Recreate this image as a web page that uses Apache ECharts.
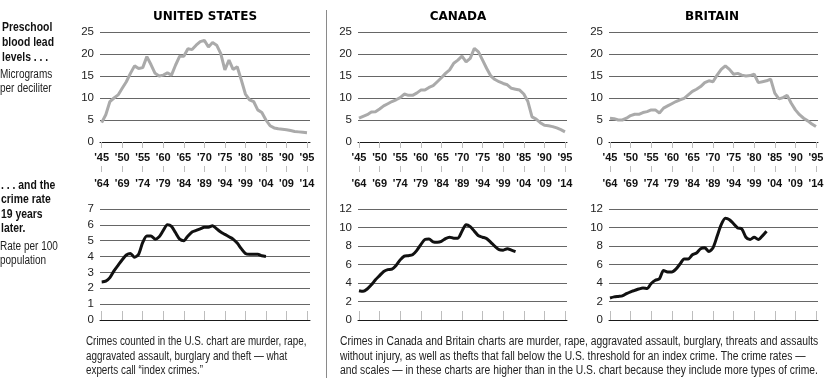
<!DOCTYPE html>
<html>
<head>
<meta charset="utf-8">
<script src="https://cdn.jsdelivr.net/npm/echarts@6/dist/echarts.min.js"></script>
<style>
html,body{margin:0;padding:0;background:#fff;}
#chart{width:833px;height:387px;}
</style>
</head>
<body>
<div id="chart"></div>
<script>
// ---------- DATA ----------
const countries = ['UNITED STATES', 'CANADA', 'BRITAIN'];

const leadYears = [1945,1946,1947,1948,1949,1950,1951,1952,1953,1954,1955,1956,1957,1958,1959,1960,1961,1962,1963,1964,1965,1966,1967,1968,1969,1970,1971,1972,1973,1974,1975,1976,1977,1978,1979,1980,1981,1982,1983,1984,1985,1986,1987,1988,1989,1990,1991,1992,1993,1994,1995];

const leadUS = [4.4,6.2,9.2,10.0,10.7,12.2,13.7,15.6,17.3,16.7,16.9,19.4,17.6,15.6,15.0,15.2,15.7,15.2,17.5,19.5,19.5,21.2,21.0,22.0,22.8,23.1,21.6,22.6,22.0,20.1,16.4,18.6,16.5,17.1,14.1,10.9,9.6,9.2,7.3,6.7,5.0,3.7,3.2,3.0,2.9,2.8,2.6,2.4,2.3,2.2,2.1];
const leadCanada = [5.4,5.8,6.2,6.8,6.9,7.5,8.2,8.7,9.2,9.6,10.1,10.9,10.6,10.6,11.1,11.8,11.8,12.4,12.8,13.7,14.6,15.6,16.4,17.9,18.6,19.5,18.2,19.0,21.3,20.5,18.6,16.7,15.0,14.2,13.7,13.3,13.0,12.2,12.0,11.8,10.9,9.2,5.7,5.2,4.4,3.8,3.7,3.5,3.2,2.8,2.3];
const leadBritain = [5.4,5.3,5.0,5.0,5.4,6.0,6.3,6.3,6.7,6.9,7.3,7.3,6.6,7.7,8.2,8.7,9.2,9.6,9.9,10.7,11.5,12.0,12.6,13.5,13.9,13.7,15.2,16.5,17.3,16.5,15.4,15.6,15.2,15.0,15.1,15.4,13.5,13.7,13.9,14.3,11.1,9.8,10.1,10.6,8.8,7.3,6.2,5.4,4.8,4.1,3.5];

const crimeYearsUS = [1964,1965,1966,1967,1968,1969,1970,1971,1972,1973,1974,1975,1976,1977,1978,1979,1980,1981,1982,1983,1984,1985,1986,1987,1988,1989,1990,1991,1992,1993,1994,1995,1996,1997,1998,1999,2000,2001,2002,2003,2004];
const crimeUS = [2.4,2.45,2.67,3.1,3.45,3.8,4.1,4.2,3.95,4.15,4.9,5.3,5.3,5.1,5.25,5.65,6.0,5.9,5.5,5.1,5.0,5.3,5.55,5.65,5.75,5.85,5.85,5.95,5.75,5.55,5.4,5.25,5.1,4.85,4.5,4.2,4.15,4.15,4.15,4.05,4.0];

const crimeYearsCanada = [1964,1965,1966,1967,1968,1969,1970,1971,1972,1973,1974,1975,1976,1977,1978,1979,1980,1981,1982,1983,1984,1985,1986,1987,1988,1989,1990,1991,1992,1993,1994,1995,1996,1997,1998,1999,2000,2001,2002];
const crimeCanada = [3.17,3.1,3.35,3.8,4.35,4.8,5.25,5.45,5.5,5.9,6.5,6.9,6.95,7.05,7.5,8.15,8.7,8.75,8.45,8.4,8.5,8.8,8.95,8.85,8.85,9.6,10.3,10.1,9.6,9.1,8.95,8.8,8.4,7.95,7.6,7.55,7.7,7.55,7.4];

const crimeYearsBritain = [1964,1965,1966,1967,1968,1969,1970,1971,1972,1973,1974,1975,1976,1977,1978,1979,1980,1981,1982,1983,1984,1985,1986,1987,1988,1989,1990,1991,1992,1993,1994,1995,1996,1997,1998,1999,2000,2001,2002];
const crimeBritain = [2.38,2.5,2.55,2.6,2.85,3.05,3.2,3.35,3.45,3.4,3.95,4.3,4.45,5.35,5.2,5.2,5.5,6.05,6.6,6.6,7.05,7.25,7.7,7.8,7.4,7.8,9.05,10.3,11.0,10.85,10.4,9.95,9.85,8.95,8.7,8.95,8.7,9.1,9.6];

const yearLag = 19; // crime rate plotted 19 years after lead level
const tickYears = [1945,1950,1955,1960,1965,1970,1975,1980,1985,1990,1995];
const leadAxisMax = 25, leadAxisStep = 5;
const crimeAxisMax = [7, 12, 12];
const crimeAxisStep = [1, 2, 2];

const leadSeries = [leadUS, leadCanada, leadBritain];
const crimeSeries = [crimeUS, crimeCanada, crimeBritain];
const crimeYears = [crimeYearsUS, crimeYearsCanada, crimeYearsBritain];

// ---------- LAYOUT / STYLE ----------
const cols = [
  {left: 100, width: 210, xmin: 1944.59, xmax: 1995.73, title: 205},
  {left: 358, width: 209, xmin: 1944.76, xmax: 1995.49, title: 458},
  {left: 609, width: 209, xmin: 1944.76, xmax: 1995.49, title: 712}
];
const topGrid = {top: 32, height: 110};
const botGrid = {top: 209, height: 111};
const SANS = '"Liberation Sans", Arial, sans-serif';
const gridColor = '#666';
const tickColor = '#bdbdbd';

const grids = [], xAxes = [], yAxes = [], series = [];
function yr(v){ return "'" + String(Math.round(v)).slice(2); }

cols.forEach((c, i) => {
  grids.push({left: c.left, width: c.width, top: topGrid.top, height: topGrid.height});
  const gTop = grids.length - 1;
  grids.push({left: c.left, width: c.width, top: botGrid.top, height: botGrid.height});
  const gBot = grids.length - 1;

  xAxes.push({
    type: 'value', gridIndex: gTop, position: 'bottom', min: c.xmin, max: c.xmax,
    axisLine: {show: true, lineStyle: {color: '#1a1a1a', width: 1}},
    axisTick: {show: true, length: 6, customValues: tickYears, lineStyle: {color: tickColor, width: 1}},
    axisLabel: {show: true, customValues: tickYears, margin: 10, formatter: yr,
      color: '#111', fontFamily: SANS, fontWeight: 'bold', fontSize: 11},
    splitLine: {show: false}
  });
  const xTop = xAxes.length - 1;
  xAxes.push({
    type: 'value', gridIndex: gTop, position: 'bottom', offset: 24, min: c.xmin, max: c.xmax,
    axisLine: {show: false},
    axisTick: {show: true, length: 6, customValues: tickYears, lineStyle: {color: tickColor, width: 1}},
    axisLabel: {show: false}, splitLine: {show: false}
  });
  xAxes.push({
    type: 'value', gridIndex: gBot, position: 'top', offset: 7, min: c.xmin, max: c.xmax,
    axisLine: {show: false},
    axisTick: {show: true, length: 9, customValues: tickYears, lineStyle: {color: tickColor, width: 1}},
    axisLabel: {show: true, customValues: tickYears, margin: 13, formatter: v => yr(v + yearLag),
      color: '#111', fontFamily: SANS, fontWeight: 'bold', fontSize: 11},
    splitLine: {show: false}
  });
  const xBot = xAxes.length - 1;
  xAxes.push({
    type: 'value', gridIndex: gBot, position: 'bottom', min: c.xmin, max: c.xmax,
    axisLine: {show: true, lineStyle: {color: '#1a1a1a', width: 1}},
    axisTick: {show: false}, axisLabel: {show: false}, splitLine: {show: false}
  });

  yAxes.push({
    type: 'value', gridIndex: gTop, min: 0, max: leadAxisMax, interval: leadAxisStep,
    axisLine: {show: false}, axisTick: {show: false},
    axisLabel: {margin: 6, color: '#222', fontFamily: SANS, fontSize: 11.5},
    splitLine: {show: true, lineStyle: {color: gridColor, width: 1}}
  });
  const yTop = yAxes.length - 1;
  yAxes.push({
    type: 'value', gridIndex: gBot, min: 0, max: crimeAxisMax[i], interval: crimeAxisStep[i],
    axisLine: {show: false}, axisTick: {show: false},
    axisLabel: {margin: 6, color: '#222', fontFamily: SANS, fontSize: 11.5},
    splitLine: {show: true, lineStyle: {color: gridColor, width: 1}}
  });
  const yBot = yAxes.length - 1;

  series.push({
    type: 'line', xAxisIndex: xTop, yAxisIndex: yTop, symbol: 'none',
    data: leadYears.map((y, k) => [y, leadSeries[i][k]]),
    lineStyle: {color: '#aaaaaa', width: 3}, z: 5
  });
  series.push({
    type: 'line', xAxisIndex: xBot, yAxisIndex: yBot, symbol: 'none', smooth: 0.25,
    data: crimeYears[i].map((y, k) => [y - yearLag, crimeSeries[i][k]]),
    lineStyle: {color: '#111', width: 3}, z: 5
  });
});

function block(x, y, text, font, lh, fill, sq){
  return {type: 'text', x: x, y: y, scaleX: sq, scaleY: 1,
    style: {text: text, font: font, lineHeight: lh, fill: fill}};
}

const graphics = [
  {type: 'line', shape: {x1: 326.5, y1: 10, x2: 326.5, y2: 378}, style: {stroke: '#8a8a8a', lineWidth: 1}},
  block(2, 20, 'Preschool\nblood lead\nlevels . . .', 'bold 13px ' + SANS, 15, '#111', 0.8),
  block(0, 68, 'Micrograms\nper deciliter', '12.5px ' + SANS, 14, '#222', 0.8),
  block(1, 178, '. . . and the\ncrime rate\n19 years\nlater.', 'bold 13px ' + SANS, 14.5, '#111', 0.8),
  block(0, 240, 'Rate per 100\npopulation', '12.5px ' + SANS, 14, '#222', 0.8),
  block(86, 334.5, 'Crimes counted in the U.S. chart are murder, rape,\naggravated assault, burglary and theft \u2014 what\nexperts call \u201cindex crimes.\u201d', '12px ' + SANS, 14.5, '#222', 0.82),
  block(340, 334.5, 'Crimes in Canada and Britain charts are murder, rape, aggravated assault, burglary, threats and assaults\nwithout injury, as well as thefts that fall below the U.S. threshold for an index crime. The crime rates \u2014\nand scales \u2014 in these charts are higher than in the U.S. chart because they include more types of crime.', '12px ' + SANS, 14.5, '#222', 0.86)
];
cols.forEach((c, i) => {
  graphics.push({type: 'text', x: c.title, y: 17, style: {text: countries[i], font: '900 12px "DejaVu Sans"', fill: '#000', align: 'center', verticalAlign: 'middle'}});
});

const chart = echarts.init(document.getElementById('chart'), null, {renderer: 'canvas'});
chart.setOption({
  animation: false,
  backgroundColor: '#fff',
  grid: grids, xAxis: xAxes, yAxis: yAxes, series: series,
  graphic: graphics
});
</script>
</body>
</html>
